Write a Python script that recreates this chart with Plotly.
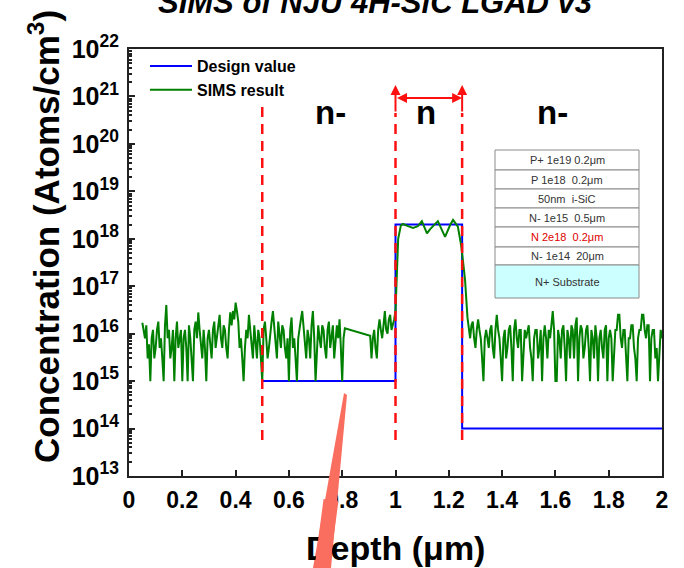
import plotly.graph_objects as go

# ---------------- data ----------------
design_depth = [0.5, 1.0, 1.0, 1.25, 1.25, 2.0]
design_conc = [1e15, 1e15, 2e18, 2e18, 1e14, 1e14]

# SIMS: n- layer before the gap
sims_left_depth = [
    0.050, 0.055, 0.060, 0.065, 0.070, 0.075, 0.080, 0.085, 0.090, 0.095,
    0.100, 0.105, 0.110, 0.115, 0.120, 0.125, 0.130, 0.135, 0.140, 0.145,
    0.150, 0.155, 0.160, 0.165, 0.170, 0.175, 0.180, 0.185, 0.190, 0.195,
    0.200, 0.205, 0.210, 0.215, 0.220, 0.225, 0.230, 0.235, 0.240, 0.245,
    0.250, 0.255, 0.260, 0.265, 0.270, 0.275, 0.280, 0.285, 0.290, 0.295,
    0.300, 0.305, 0.310, 0.315, 0.320, 0.325, 0.330, 0.335, 0.340, 0.345,
    0.350, 0.355, 0.360, 0.365, 0.370, 0.375, 0.380, 0.385, 0.390, 0.395,
    0.400, 0.405, 0.410, 0.415, 0.420, 0.425, 0.430, 0.435, 0.440, 0.445,
    0.450, 0.455, 0.460, 0.465, 0.470, 0.475, 0.480, 0.485, 0.490, 0.495,
    0.500, 0.505, 0.510, 0.515, 0.520, 0.525, 0.530, 0.535, 0.540, 0.545,
    0.550, 0.555, 0.560, 0.565, 0.570, 0.575, 0.580, 0.585, 0.590, 0.595,
    0.600, 0.605, 0.610, 0.615, 0.620, 0.625, 0.630, 0.635, 0.640, 0.645,
    0.650, 0.655, 0.660, 0.665, 0.670, 0.675, 0.680, 0.685, 0.690, 0.695,
    0.700, 0.705, 0.710, 0.715, 0.720, 0.725, 0.730, 0.735, 0.740, 0.745,
    0.750, 0.755, 0.760, 0.765, 0.770, 0.775, 0.780, 0.785, 0.790, 0.795,
    0.800, 0.805, 0.810,
]
sims_left_conc = [
    1.7e16, 1.2e16, 8e15, 1.5e16, 3e15, 6e15, 1e15, 8e15, 1.2e16, 3e15,
    5e15, 1.2e16, 1.8e16, 5e15, 8e15, 3e15, 1e15, 1.5e16, 4e16, 8e15,
    1.2e16, 3e15, 5e15, 1.2e16, 1e15, 8e15, 1.8e16, 5e15, 8e15, 1.2e16,
    1e15, 8e15, 1.2e16, 5e15, 1e15, 1.5e16, 8e15, 3e15, 1e15, 1.2e16,
    1.8e16, 8e15, 2.8e16, 1.2e16, 5e15, 3e15, 1.2e16, 5e15, 1e15, 8e15,
    1.2e16, 5e15, 3e15, 1.2e16, 1.8e16, 5e15, 8e15, 1.5e16, 2.5e16, 8e15,
    5e15, 1.5e16, 1.2e16, 5e15, 3e15, 1.2e16, 2.8e16, 1.5e16, 3e16, 2e16,
    4.5e16, 3e16, 1.8e16, 5e15, 8e15, 3e15, 1e15, 5e15, 1.2e16, 8e15,
    2.5e16, 1.2e16, 5e15, 3e15, 1.5e16, 8e15, 3e15, 1.2e16, 8e15, 3e15,
    1e15, 1.2e16, 1.8e16, 8e15, 3e15, 5e15, 1.2e16, 1.8e16, 3e16, 1.2e16,
    8e15, 3e15, 1.8e16, 8e15, 5e15, 1.5e16, 1.2e16, 5e15, 3e15, 8e15,
    1e15, 1.2e16, 2.2e16, 5e15, 8e15, 3e15, 1e15, 8e15, 1.5e16, 2e16,
    3e16, 1.2e16, 5e15, 3e15, 1.2e16, 8e15, 3e15, 1.5e16, 3e16, 8e15,
    1e15, 5e15, 1.5e16, 8e15, 5e15, 1.5e16, 1.2e16, 5e15, 3e15, 1.2e16,
    1.8e16, 5e15, 8e15, 1.5e16, 3e15, 8e15, 1.5e16, 8e15, 2e16, 5e15,
    1e15, 8e15, 1.3e16,
]

# SIMS: after the missing-data gap, up to the n layer
sims_mid_depth = [
    0.905, 0.910, 0.915, 0.920, 0.925, 0.930, 0.935, 0.940, 0.945, 0.950,
    0.955, 0.960, 0.965, 0.970, 0.975, 0.980, 0.985, 0.990, 0.995,
]
sims_mid_conc = [
    9e15, 3e15, 8e15, 1.2e16, 5e15, 3e15, 1.2e16, 2e16, 1.2e16, 8e15,
    1.5e16, 3e16, 1.2e16, 1e16, 2e16, 2.5e16, 1.2e16, 1.5e16, 2e16,
]

# SIMS: n layer peak
sims_peak_depth = [
    1.000, 1.005, 1.010, 1.020, 1.028, 1.047, 1.066, 1.084, 1.099, 1.118,
    1.130, 1.159, 1.186, 1.205, 1.216, 1.234, 1.246, 1.253, 1.261, 1.270,
]
sims_peak_conc = [
    3e16, 2.5e17, 1e18, 1.9e18, 2.05e18, 1.85e18, 1.7e18, 1.85e18, 2.35e18, 1.3e18,
    1.6e18, 2.35e18, 1.1e18, 1.95e18, 2.5e18, 1.8e18, 7.5e17, 3.5e17, 1.35e17, 2.2e16,
]

# SIMS: n- layer after the peak
sims_right_depth = [
    1.275,
    1.280, 1.285, 1.290, 1.295, 1.300, 1.305, 1.310, 1.315, 1.320, 1.325,
    1.330, 1.335, 1.340, 1.345, 1.350, 1.355, 1.360, 1.365, 1.370, 1.375,
    1.380, 1.385, 1.390, 1.395, 1.400, 1.405, 1.410, 1.415, 1.420, 1.425,
    1.430, 1.435, 1.440, 1.445, 1.450, 1.455, 1.460, 1.465, 1.470, 1.475,
    1.480, 1.485, 1.490, 1.495, 1.500, 1.505, 1.510, 1.515, 1.520, 1.525,
    1.530, 1.535, 1.540, 1.545, 1.550, 1.555, 1.560, 1.565, 1.570, 1.575,
    1.580, 1.585, 1.590, 1.595, 1.600, 1.605, 1.610, 1.615, 1.620, 1.625,
    1.630, 1.635, 1.640, 1.645, 1.650, 1.655, 1.660, 1.665, 1.670, 1.675,
    1.680, 1.685, 1.690, 1.695, 1.700, 1.705, 1.710, 1.715, 1.720, 1.725,
    1.730, 1.735, 1.740, 1.745, 1.750, 1.755, 1.760, 1.765, 1.770, 1.775,
    1.780, 1.785, 1.790, 1.795, 1.800, 1.805, 1.810, 1.815, 1.820, 1.825,
    1.830, 1.835, 1.840, 1.845, 1.850, 1.855, 1.860, 1.865, 1.870, 1.875,
    1.880, 1.885, 1.890, 1.895, 1.900, 1.905, 1.910, 1.915, 1.920, 1.925,
    1.930, 1.935, 1.940, 1.945, 1.950, 1.955, 1.960, 1.965, 1.970, 1.975,
    1.980, 1.985, 1.990, 1.995, 2.000,
]
sims_right_conc = [
    1.2e16,
    8e15, 1.5e16, 1.8e16, 8e15, 5e15, 1.2e16, 2e16, 1.2e16, 8e15, 3e15,
    1e15, 8e15, 1.2e16, 8e15, 5e15, 1.2e16, 1.5e16, 5e15, 3e15, 1.2e16,
    2.5e16, 1.2e16, 8e15, 3e15, 1e15, 8e15, 1.2e16, 3e15, 5e15, 1.2e16,
    1.5e16, 5e15, 1e15, 1.2e16, 2e16, 8e15, 5e15, 1.2e16, 1.2e16, 1e15,
    5e15, 1.2e16, 8e15, 1.2e16, 1.5e16, 5e15, 3e15, 1e15, 8e15, 1.2e16,
    1.2e16, 3e15, 5e15, 1.2e16, 1e15, 8e15, 1.5e16, 8e15, 3e15, 1.2e16,
    8e15, 1.5e16, 3e16, 1.2e16, 1e15, 1e15, 1.2e16, 8e15, 3e15, 1.2e16,
    1.5e16, 5e15, 1e15, 1.2e16, 8e15, 3e15, 1.5e16, 1.2e16, 3e15, 1.5e16,
    2.2e16, 1e15, 8e15, 1.5e16, 1.2e16, 3e15, 5e15, 1.2e16, 1.5e16, 5e15,
    1e15, 1.2e16, 8e15, 3e15, 1.5e16, 8e15, 1e15, 8e15, 1.2e16, 5e15,
    3e15, 1.2e16, 1.5e16, 1e15, 8e15, 1.2e16, 8e15, 1e15, 5e15, 1.2e16,
    1.2e16, 2.5e16, 2.5e16, 8e15, 5e15, 1.2e16, 1.2e16, 3e15, 1e15, 8e15,
    8e15, 1.5e16, 1.5e16, 5e15, 3e15, 1e15, 8e15, 1.2e16, 1.2e16, 2.5e16,
    2.5e16, 1.2e16, 8e15, 1.5e16, 1.5e16, 1e15, 8e15, 1.2e16, 1.2e16, 3e15,
    5e15, 1e15, 5e15, 1.2e16, 8e15,
]

boundaries = [0.5, 1.0, 1.25]
region_labels = ["n-", "n", "n-"]
region_label_x = [0.755, 1.115, 1.59]

layer_table = ["P+ 1e19 0.2\u03bcm", "P 1e18  0.2\u03bcm", "50nm  i-SiC",
               "N- 1e15  0.5\u03bcm", "N 2e18  0.2\u03bcm", "N- 1e14  20\u03bcm",
               "N+ Substrate"]
layer_colors = ["#333333", "#333333", "#333333", "#333333", "#E00000", "#333333", "#333333"]

x_ticks = [0, 0.2, 0.4, 0.6, 0.8, 1.0, 1.2, 1.4, 1.6, 1.8, 2.0]
x_tick_text = ["0", "0.2", "0.4", "0.6", "0.8", "1", "1.2", "1.4", "1.6", "1.8", "2"]

sims_depth = sims_left_depth + sims_mid_depth + sims_peak_depth + sims_right_depth
sims_conc = sims_left_conc + sims_mid_conc + sims_peak_conc + sims_right_conc

# ---------------- geometry helpers (pixel -> paper) ----------------
W, H = 684, 568
L, R, T, B = 129, 22, 49, 92
PW, PH = W - L - R, H - T - B


def px(x):
    return (x - L) / PW


def py(y):
    return 1 - (y - T) / PH


FONT = "Arial, Liberation Sans, sans-serif"

fig = go.Figure()
fig.add_trace(go.Scatter(x=design_depth, y=design_conc, mode="lines", name="Design value",
                         line=dict(color="#0000FF", width=2)))
fig.add_trace(go.Scatter(x=sims_depth, y=sims_conc, mode="lines", name="SIMS result",
                         line=dict(color="#008000", width=2)))

shapes = []
annotations = []

# red dashed boundaries
for i, b in enumerate(boundaries):
    top = py(107) if i == 0 else py(113)
    shapes.append(dict(type="line", xref="x", yref="paper", x0=b, x1=b, y0=py(440), y1=top,
                       line=dict(color="#FF1010", width=2.5, dash="10px,7px"), layer="above"))
# vertical arrows on n boundaries
for b in boundaries[1:]:
    annotations.append(dict(xref="x", yref="paper", x=b, y=py(85), ax=0, ay=28, text="",
                            showarrow=True, arrowhead=2, arrowsize=1, arrowwidth=2,
                            arrowcolor="#FF1010"))
# horizontal double arrow
annotations.append(dict(xref="x", yref="paper", x=boundaries[2], y=py(98),
                        ax=-(boundaries[2] - boundaries[1]) * PW / 2, ay=0, text="",
                        showarrow=True, arrowhead=2, arrowside="end+start", arrowsize=1,
                        arrowwidth=2, arrowcolor="#FF1010"))

for lab, lx in zip(region_labels, region_label_x):
    annotations.append(dict(xref="x", yref="paper", x=lx, y=py(113), text=lab, showarrow=False,
                            font=dict(family=FONT, size=33, color="black", weight="bold"),
                            xanchor="center", yanchor="middle"))

# layer table
tx0, tx1 = px(495), px(639)
row_edges = [150, 170, 189, 208, 227, 247, 265, 298]
for i, lab in enumerate(layer_table):
    y0p, y1p = row_edges[i], row_edges[i + 1]
    fill = "#CCFFFF" if i == len(layer_table) - 1 else "white"
    shapes.append(dict(type="rect", xref="paper", yref="paper", x0=tx0, x1=tx1,
                       y0=py(y1p), y1=py(y0p), fillcolor=fill,
                       line=dict(color="#8A8A8A", width=1), layer="above"))
    annotations.append(dict(xref="paper", yref="paper", x=(tx0 + tx1) / 2,
                            y=py((y0p + y1p) / 2), text=lab, showarrow=False,
                            font=dict(family=FONT, size=11, color=layer_colors[i]),
                            xanchor="center", yanchor="middle"))

# axis titles and chart title as annotations
annotations.append(dict(xref="paper", yref="paper", x=px(44), y=py(237), textangle=-90,
                        text="Concentration (Atoms/cm<sup>3</sup>)", showarrow=False,
                        font=dict(family=FONT, size=35, color="black", weight="bold"),
                        xanchor="center", yanchor="middle"))
annotations.append(dict(xref="paper", yref="paper", x=px(395), y=py(548),
                        text="Depth (\u03bcm)", showarrow=False,
                        font=dict(family=FONT, size=34, color="black", weight="bold"),
                        xanchor="center", yanchor="middle"))
annotations.append(dict(xref="paper", yref="paper", x=px(375), y=py(2),
                        text="SIMS of NJU 4H-SiC LGAD v3", showarrow=False,
                        font=dict(family=FONT, size=31, color="black", weight="bold",
                                  style="italic"),
                        xanchor="center", yanchor="middle"))

# salmon pointer stroke
wedge = [(344, 393), (347, 395), (331, 568), (313, 568)]
path = "M " + " L ".join(f"{px(a):.4f},{py(b):.4f}" for a, b in wedge) + " Z"
shapes.append(dict(type="path", xref="paper", yref="paper", path=path,
                   fillcolor="#F96E5E", line=dict(width=0), layer="above"))
annotations.append(dict(xref="paper", yref="paper", x=px(331), y=py(500), ax=-9, ay=75,
                        text="", showarrow=True, arrowhead=0, arrowwidth=15,
                        arrowcolor="#F96E5E"))

fig.update_layout(
    width=W, height=H, margin=dict(l=L, r=R, t=T, b=B),
    paper_bgcolor="white", plot_bgcolor="white",
    showlegend=True,
    legend=dict(x=px(145), y=py(49), xanchor="left", yanchor="top",
                bgcolor="rgba(0,0,0,0)", borderwidth=0, itemwidth=42,
                font=dict(family=FONT, size=16, color="black", weight="bold"),
                tracegroupgap=0),
    shapes=shapes, annotations=annotations,
    xaxis=dict(range=[0, 2], tickvals=x_ticks, ticktext=x_tick_text,
               ticks="inside", ticklen=6, tickwidth=1.5, tickcolor="#222",
               showline=True, linecolor="#222", linewidth=2, mirror=True,
               showgrid=False, zeroline=False, ticklabelstandoff=2,
               tickfont=dict(family=FONT, size=23, color="black", weight="bold")),
    yaxis=dict(type="log", range=[13, 22], dtick=1, exponentformat="power",
               ticks="inside", ticklen=6, tickwidth=1.5, tickcolor="#222",
               minor=dict(ticks="inside", ticklen=3, dtick="D1", tickcolor="#222"),
               showline=True, linecolor="#222", linewidth=2, mirror=True,
               showgrid=False, zeroline=False, ticklabelstandoff=4,
               tickfont=dict(family=FONT, size=20, color="black", weight="bold")),
)

fig.write_html("out.html")
